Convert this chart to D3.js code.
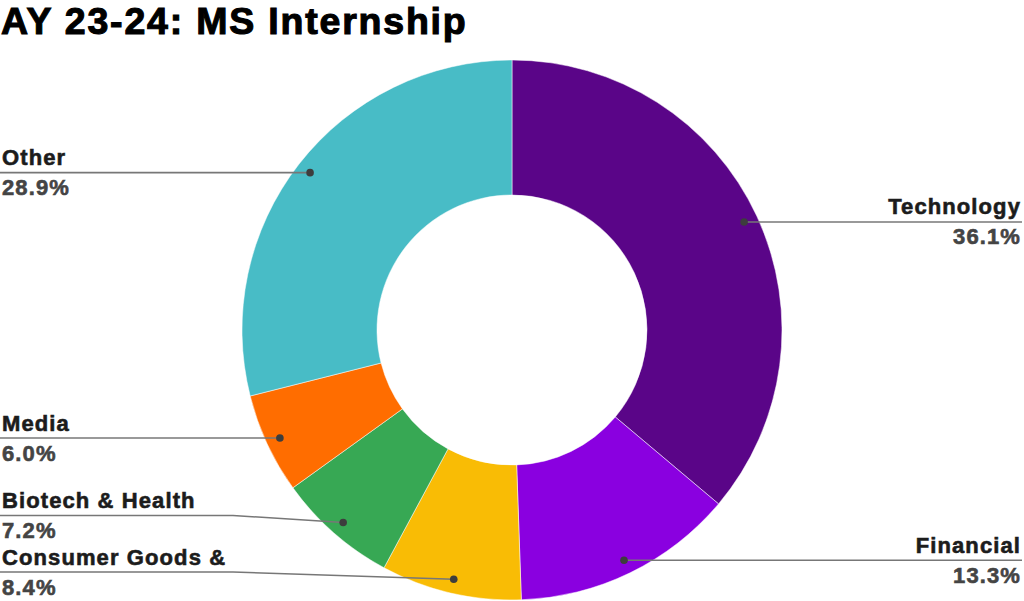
<!DOCTYPE html>
<html><head><meta charset="utf-8">
<script src="https://cdn.jsdelivr.net/npm/d3@7"></script>
<style>html,body{margin:0;padding:0;background:#fff;}svg{display:block;}</style>
</head><body>
<script>
const title = "AY 23-24: MS Internship";
const categories = ["Technology", "Financial", "Consumer Goods &", "Biotech & Health", "Media", "Other"];
const values = [36.1, 13.3, 8.4, 7.2, 6.0, 28.9];
const colors = ["#5a0588", "#8a00e0", "#f9bc05", "#37a854", "#ff6d00", "#48bcc6"];

const W = 1024, H = 601;
const cx = 512, cy = 330, R = 270, r0 = 135, dotR = 256;

// label layout (line y and elbow), per category order
const labelLayout = [
  {side: "right", lineY: null},
  {side: "right", lineY: null},
  {side: "left", lineY: 572, elbowX: 233},
  {side: "left", lineY: 515.5, elbowX: 233},
  {side: "left", lineY: null},
  {side: "left", lineY: null}
];

const svg = d3.select("body").append("svg").attr("width", W).attr("height", H);

svg.append("text").attr("x", 1).attr("y", 34)
  .attr("font-family", "Liberation Sans, Arial, sans-serif")
  .attr("font-weight", "bold").attr("font-size", 37.5)
  .attr("letter-spacing", 1.8)
  .attr("fill", "#000").attr("stroke", "#000").attr("stroke-width", 1.1)
  .text(title);

const data = categories.map((c, i) => ({name: c, value: values[i], color: colors[i], i}));
const pie = d3.pie().value(d => d.value).sort(null);
const arcs = pie(data);
const arc = d3.arc().innerRadius(r0).outerRadius(R);

const g = svg.append("g").attr("transform", `translate(${cx},${cy})`);
g.selectAll("path").data(arcs).enter().append("path")
  .attr("d", arc).attr("fill", d => d.data.color)
  .attr("stroke", "#fff").attr("stroke-width", 0.5);

const fmt = d3.format(".1f");
const font = "Liberation Sans, Arial, sans-serif";

arcs.forEach((a, i) => {
  const mid = (a.startAngle + a.endAngle) / 2;
  const dx = cx + Math.sin(mid) * dotR;
  const dy = cy - Math.cos(mid) * dotR;
  const L = labelLayout[i];
  const ly = L.lineY == null ? dy : L.lineY;
  let pts;
  if (L.side === "right") {
    pts = [[dx, dy], [1022, ly]];
  } else if (L.elbowX != null) {
    pts = [[dx, dy], [L.elbowX, ly], [0, ly]];
  } else {
    pts = [[dx, dy], [0, ly]];
  }
  svg.append("path").attr("d", d3.line()(pts))
    .attr("fill", "none").attr("stroke", "#777").attr("stroke-width", 1.6);
  svg.append("circle").attr("cx", dx).attr("cy", dy).attr("r", 3.8).attr("fill", "#3d3d3d");
  const tx = L.side === "right" ? 1021 : 2;
  const anchor = L.side === "right" ? "end" : "start";
  svg.append("text").attr("x", tx).attr("y", ly - 7.5)
    .attr("text-anchor", anchor).attr("font-family", font).attr("font-weight", "bold")
    .attr("font-size", 22).attr("letter-spacing", 1.1)
    .attr("fill", "#1c1c1c").attr("stroke", "#1c1c1c").attr("stroke-width", 0.6)
    .text(a.data.name);
  svg.append("text").attr("x", tx).attr("y", ly + 22.5)
    .attr("text-anchor", anchor).attr("font-family", font).attr("font-weight", "bold")
    .attr("font-size", 22).attr("letter-spacing", 1.1)
    .attr("fill", "#444").attr("stroke", "#444").attr("stroke-width", 0.6)
    .text(fmt(a.data.value) + "%");
});
</script>
</body></html>
